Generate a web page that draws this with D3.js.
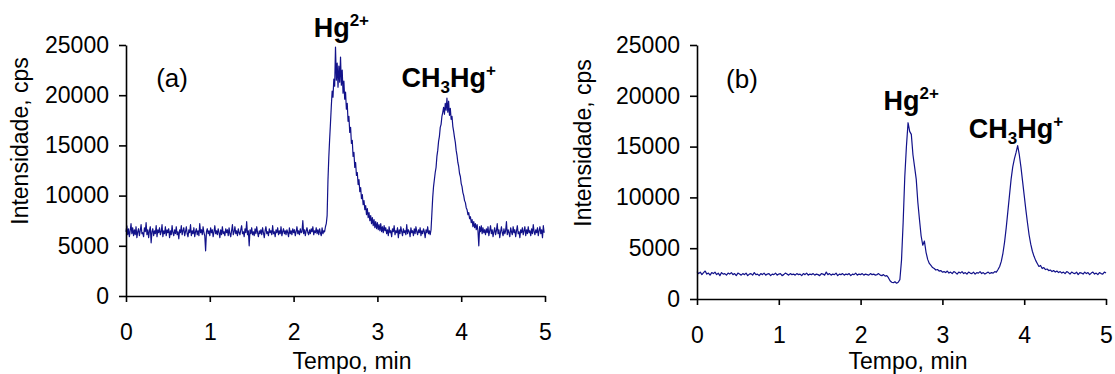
<!DOCTYPE html>
<html>
<head>
<meta charset="utf-8">
<script src="https://cdn.jsdelivr.net/npm/d3@7"></script>
<style>
  body { margin: 0; background: #fff; }
  svg { display: block; }
  text { font-family: "Liberation Sans", Arial, sans-serif; fill: #000; }
  .axis path, .axis line { stroke: #000; stroke-width: 1.6; }
</style>
</head>
<body>
<div id="chart"></div>
<script>
var xTicks = [0, 1, 2, 3, 4, 5];
var yTicks = [0, 5000, 10000, 15000, 20000, 25000];

// (a) intensity, cps, one reading every stepA min from t = 0
var stepA = 0.01;
var seriesA = [
  6400, 7000, 6100, 6700, 5900, 6500, 7200, 6200, 6800, 6000,
  6600, 6100, 6900, 5800, 6400, 6700, 6000, 6500, 7100, 6200,
  6300, 5900, 6800, 6400, 7300, 6100, 6600, 5800, 6500, 6900,
  5300, 6400, 6700, 6000, 6500, 6200, 7000, 5900, 6600, 6300,
  6800, 6100, 6400, 7100, 5900, 6500, 6200, 6900, 6000, 6600,
  6300, 6700, 5800, 6500, 6100, 7000, 6300, 6000, 6600, 6200,
  6900, 6100, 6400, 5700, 6600, 6300, 7000, 6100, 6500, 6800,
  6000, 6400, 6900, 6200, 5900, 6600, 6300, 7100, 6000, 6500,
  6200, 6800, 5900, 6400, 6700, 6100, 6500, 6000, 7200, 6300,
  6600, 6100, 6900, 6300, 6000, 4500, 6400, 6700, 6200, 6500,
  6000, 6800, 6300, 6600, 5900, 6400, 7000, 6200, 6500, 6100,
  6700, 6300, 5800, 6600, 6100, 6900, 6200, 6400, 6000, 6700,
  6300, 6600, 6000, 6800, 6200, 5900, 6500, 7100, 6100, 6400,
  6900, 6200, 6500, 6000, 6700, 6300, 6100, 6600, 7000, 6200,
  6400, 5900, 6700, 6300, 7400, 6100, 6500, 5000, 6600, 6200,
  6800, 6100, 6400, 6000, 6700, 6200, 6900, 6300, 5900, 6500,
  6200, 6600, 6100, 6800, 6300, 5800, 6500, 6900, 6200, 6400,
  6000, 6700, 6300, 6500, 6100, 7000, 6200, 6400, 5900, 6600,
  6300, 6800, 6100, 6500, 6200, 6900, 6000, 6400, 6700, 6200,
  6500, 6100, 6600, 6300, 5900, 6800, 6200, 6500, 6100, 6700,
  6300, 6600, 6000, 6400, 6900, 6200, 6500, 6100, 6700, 6300,
  6400, 7500, 6200, 6600, 6000, 6500, 6800, 6300, 6100, 6600,
  6200, 6700, 6400, 6900, 6100, 6500, 6300, 6800, 6200, 6600,
  6100, 6700, 6300, 6000, 6800, 6200, 6500, 6400, 6900, 7200,
  // Hg2+ peak
  8000, 11500, 13800, 15600, 17200, 18900, 20400, 19800, 21600, 20900,
  24800, 21500, 23200, 20800, 22900, 21300, 23800, 21000, 22500, 20200,
  21400, 19600, 20300, 18600, 19200, 17400, 17900, 16300, 16800, 15200,
  15500, 13900, 14300, 12800, 13300, 12000, 12300, 11100, 11600, 10400,
  10800, 9700, 10100, 9100, 9500, 8600, 9000, 8100, 8700, 7800,
  8300, 7500, 8000, 7200, 7800, 7000, 7600, 6800, 7400, 6700,
  7300, 6600, 7100, 6500, 7200, 6400, 6900, 6300, 7000, 6500,
  6800, 6200, 6600, 6000, 6900, 6300, 6500, 5900, 6700, 6400,
  7000, 6100, 6500, 6300, 6800, 5800, 6600, 6200, 6900, 6400,
  6000, 6700, 6300, 6500, 6100, 7100, 6200, 6600, 6400, 5900,
  6800, 6300, 6500, 6000, 6700, 6200, 6900, 6400, 6100, 6600,
  6300, 6800, 6000, 6500, 6200, 6700, 6400, 5800, 6600, 6300,
  // CH3Hg+ peak
  6900, 6200, 6500, 6100, 6600, 8200, 9800, 10900, 11600, 12300,
  12800, 13900, 14500, 15400, 15900, 16800, 17100, 17900, 18300, 18800,
  18100, 19200, 18500, 19700, 18300, 19400, 18000, 18700, 17600, 17900,
  16900, 16400, 15800, 15300, 14500, 14000, 13300, 12900, 12200, 11900,
  11200, 10900, 10300, 10000, 9500, 9300, 8800, 8600, 8100, 8300,
  7700, 7900, 7300, 7600, 6900, 7400, 6800, 7200, 6600, 7100,
  6500, 5000, 6900, 6400, 7000, 6200, 6800, 6300, 6600, 6100,
  6700, 6300, 6900, 6000, 6500, 7000, 6200, 6600, 5900, 6400,
  6800, 6100, 6500, 7200, 6200, 6600, 5800, 6400, 6900, 6300,
  6000, 6700, 6200, 6500, 7400, 6100, 6600, 6300, 5900, 6800,
  6400, 6100, 6900, 6300, 6600, 5900, 6500, 7000, 6200, 6400,
  5800, 6600, 6300, 6800, 6100, 6500, 6900, 6000, 6600, 6200,
  6900, 6300, 6500, 6000, 6700, 6200, 7100, 6400, 6100, 6600,
  6300, 6800, 6000, 6500, 6900, 6200, 6600, 5800, 7000, 6300
];

// (b) intensity, cps
var stepB = 0.02;
var seriesB = [
  2700, 2500, 2650, 2400, 2600, 2750, 2450, 2550, 2350, 2600,
  2500, 2650, 2400, 2550, 2300, 2600, 2450, 2500, 2350, 2550,
  2450, 2600, 2400, 2500, 2300, 2550, 2450, 2350, 2500, 2400,
  2550, 2300, 2450, 2500, 2350, 2600, 2400, 2450, 2300, 2500,
  2400, 2550, 2350, 2450, 2500, 2300, 2450, 2400, 2550, 2350,
  2450, 2500, 2300, 2400, 2550, 2450, 2350, 2500, 2400, 2450,
  2350, 2500, 2400, 2450, 2300, 2500, 2400, 2550, 2350, 2450,
  2400, 2500, 2350, 2450, 2400, 2300, 2500, 2450, 2350, 2650,
  2400, 2500, 2350, 2450, 2400, 2550, 2300, 2450, 2400, 2500,
  2350, 2450, 2400, 2500, 2300, 2450, 2400, 2550, 2350, 2450,
  2400, 2500, 2350, 2450, 2400, 2350, 2500, 2400, 2450, 2350,
  2400, 2500, 2350, 2300, 2400, 2250, 2300,
  2100, 1800, 1650, 1600, 1700, 1550, 1650, 1900,
  // Hg2+ peak
  3800, 7500, 12000, 15000, 17350, 16500, 16200, 14200, 13000, 11800,
  9500, 7800, 6200, 5300, 5700, 4600, 3900, 3500, 3300, 3100,
  3000, 2850, 2900, 2750, 2800, 2650,
  2700, 2600, 2750, 2550, 2650, 2500, 2700, 2600, 2450, 2650,
  2550, 2700, 2500, 2600, 2450, 2650, 2550, 2500, 2650, 2450,
  2600, 2550, 2700, 2500, 2600, 2450, 2550, 2650, 2500, 2600,
  2550, 2700, 2650,
  // CH3Hg+ peak
  2900, 3200, 3700, 4500, 5600, 7000, 8600, 10200, 11800, 13000,
  13800, 14400, 15100, 14200, 13000, 11600, 10200, 8800, 7500, 6300,
  5400, 4700, 4200, 3800, 3500, 3200, 3300, 3000, 3100, 2900,
  2950, 2800, 2850, 2700, 2800, 2650, 2750,
  2600, 2700, 2550, 2650, 2500, 2700, 2600, 2450, 2650, 2550,
  2500, 2650, 2400, 2600, 2550, 2450, 2650, 2500, 2600, 2400,
  2550, 2650, 2450, 2550, 2400, 2600, 2500, 2450, 2650, 2550
];

// peak labels: [time, intensity] where the label baseline sits
var labelsA = [
  { name: "Hg", sup: "2+", t: 2.57, v: 25800 },
  { name: "CH3Hg", sup: "+", t: 3.85, v: 20800 }
];
var labelsB = [
  { name: "Hg", sup: "2+", t: 2.62, v: 18600 },
  { name: "CH3Hg", sup: "+", t: 3.90, v: 15850 }
];

var W = 1115, H = 374;

var svg = d3.select("#chart").append("svg")
  .attr("width", W)
  .attr("height", H);

var drawPanel = function (opts) {
  var x = d3.scaleLinear().domain([0, 5]).range([opts.left, opts.right]);
  var y = d3.scaleLinear().domain([0, 25000]).range([opts.bottom, opts.top]);
  var g = svg.append("g");

  var line = d3.line()
    .x(function (d, i) { return x(i * opts.step); })
    .y(function (d) { return y(d); });

  g.append("path")
    .datum(opts.data)
    .attr("d", line)
    .attr("fill", "none")
    .attr("stroke", "#12128a")
    .attr("stroke-width", 1.2)
    .attr("stroke-linejoin", "round");

  var xAxis = g.append("g")
    .attr("class", "axis")
    .attr("transform", "translate(0," + opts.bottom + ")")
    .call(d3.axisBottom(x).tickValues(xTicks).tickSize(6).tickPadding(22).tickSizeOuter(0).tickFormat(d3.format("d")));

  var yAxis = g.append("g")
    .attr("class", "axis")
    .attr("transform", "translate(" + opts.left + ",0)")
    .call(d3.axisLeft(y).tickValues(yTicks).tickSize(7).tickPadding(10).tickSizeOuter(0).tickFormat(d3.format("d")));

  g.selectAll(".axis text")
    .attr("fill", "#000")
    .attr("font-size", 23)
    .attr("font-family", "Liberation Sans, Arial, sans-serif");

  // axis titles
  g.append("text")
    .attr("x", opts.xTitleX)
    .attr("y", 369)
    .attr("text-anchor", "middle")
    .attr("font-size", 23)
    .text("Tempo, min");

  g.append("text")
    .attr("transform", "translate(" + opts.yTitleX + "," + opts.yTitleY + ") rotate(-90)")
    .attr("text-anchor", "middle")
    .attr("dy", "0.35em")
    .attr("font-size", 23)
    .text("Intensidade, cps");

  // panel letter
  g.append("text")
    .attr("x", x(0.55))
    .attr("y", y(20800))
    .attr("text-anchor", "middle")
    .attr("font-size", 26)
    .text(opts.letter);

  // peak labels
  opts.labels.forEach(function (lb) {
    var t = g.append("text")
      .attr("x", x(lb.t))
      .attr("y", y(lb.v))
      .attr("text-anchor", "middle")
      .attr("font-size", 27)
      .attr("font-weight", "bold");
    if (lb.name == "CH3Hg") {
      t.append("tspan").text("CH");
      t.append("tspan").attr("dy", 6).attr("font-size", 17).text("3");
      t.append("tspan").attr("dy", -6).text("Hg");
    } else {
      t.append("tspan").text(lb.name);
    }
    t.append("tspan").attr("dy", -11).attr("font-size", 17).text(lb.sup);
  });
};

drawPanel({
  data: seriesA, step: stepA, labels: labelsA, letter: "(a)",
  left: 126, right: 545, top: 45, bottom: 296,
  xTitleX: 352, yTitleX: 20, yTitleY: 141
});

drawPanel({
  data: seriesB, step: stepB, labels: labelsB, letter: "(b)",
  left: 697, right: 1106, top: 45, bottom: 299,
  xTitleX: 908, yTitleX: 583, yTitleY: 143
});
</script>
</body>
</html>
